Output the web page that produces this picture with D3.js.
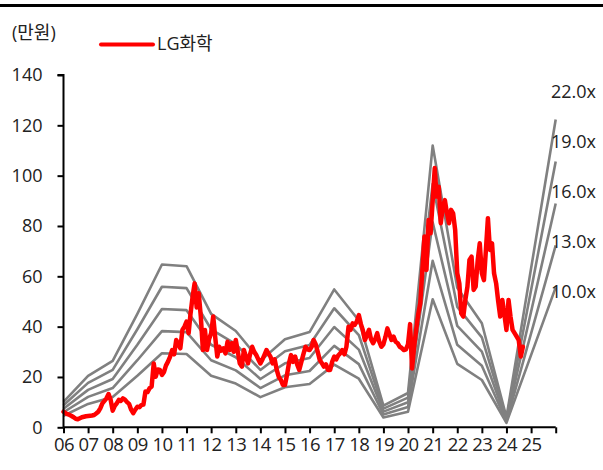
<!DOCTYPE html>
<html>
<head>
<meta charset="utf-8">
<script src="https://cdn.jsdelivr.net/npm/d3@7/dist/d3.min.js"></script>
<style>
  html, body { margin: 0; padding: 0; background: #fff; }
  svg { display: block; }
  text { font-family: "Open Sans", "Noto Sans CJK KR", sans-serif; fill: #222; }
</style>
</head>
<body>
<svg id="chart" width="603" height="470"></svg>
<script>
// ---- Data ----
const unitLabel = "(만원)";
const seriesName = "LG화학";
const bandYears = [2006, 2007, 2008, 2009, 2010, 2011, 2012, 2013, 2014, 2015, 2016, 2017, 2018, 2019, 2020, 2021, 2022, 2023, 2024, 2026];
const bandEPS   = [0.46, 0.93, 1.20, 2.05, 2.94, 2.91, 2.05, 1.74, 1.20, 1.59, 1.72, 2.49, 1.93, 0.39, 0.62, 5.09, 2.52, 1.88, 0.18, 5.56];
const multiples = [22, 19, 16, 13, 10];
const multipleLabels = ["22.0x", "19.0x", "16.0x", "13.0x", "10.0x"];
// Monthly share price (만원), starting Jan 2006
const priceStart = [2006, 0];
const priceValues = [
  6.2, 5.6, 5.2, 4.9, 4.5, 4.0, 3.4, 3.2, 3.6, 4.0, 4.2, 4.4,          // 2006
  4.5, 4.6, 4.7, 4.9, 5.5, 6.2, 7.5, 9.5, 10.5, 11.5, 13.2, 11.0,      // 2007
  6.6, 8.5, 9.5, 10.9, 10.5, 11.5, 11.0, 10.0, 9.3, 7.0, 5.6, 7.0,     // 2008
  8.2, 8.0, 8.8, 9.0, 14.2, 14.0, 15.5, 16.2, 25.4, 20.1, 23.0, 22.8,  // 2009
  20.8, 22.0, 24.5, 26.1, 28.0, 30.7, 29.0, 34.7, 33.0, 31.4, 38.7, 40.0, // 2010
  42.0, 37.4, 45.0, 51.9, 57.2, 47.6, 53.3, 44.0, 30.7, 38.7, 30.7, 35.0, // 2011
  37.4, 44.0, 36.0, 28.1, 32.0, 30.5, 31.4, 29.4, 34.0, 30.7, 33.4, 30.0, // 2012
  34.7, 30.0, 25.4, 24.1, 30.7, 28.1, 25.4, 29.0, 32.0, 30.0, 28.7, 27.0, // 2013
  25.4, 27.0, 28.7, 30.7, 29.4, 28.0, 25.4, 27.0, 22.8, 20.0, 18.8, 16.8, // 2014
  16.8, 21.0, 25.4, 28.7, 26.0, 28.1, 25.0, 22.8, 26.0, 29.0, 32.0, 31.0, // 2015
  30.7, 32.0, 34.7, 33.0, 30.0, 26.7, 25.5, 24.1, 25.0, 22.8, 22.8, 26.0, // 2016
  28.1, 27.0, 28.5, 29.4, 30.7, 29.0, 32.0, 40.0, 38.7, 41.3, 40.7, 42.0, // 2017
  44.6, 41.0, 38.7, 34.7, 36.5, 38.7, 35.0, 33.4, 35.0, 37.4, 34.0, 32.0, // 2018
  33.0, 36.0, 39.3, 37.0, 34.7, 36.0, 34.0, 33.4, 32.0, 31.5, 30.7, 31.0, // 2019
  33.0, 41.0, 23.4, 32.0, 38.7, 45.0, 49.3, 62.5, 75.8, 62.5, 82.4, 77.1, // 2020
  90.0, 103.0, 91.7, 95.6, 81.1, 87.7, 90.3, 85.0, 81.1, 86.4, 85.0, 78.4, // 2021
  61.2, 57.2, 45.3, 44.0, 50.6, 55.9, 66.5, 67.8, 54.6, 55.9, 66.5, 73.1, // 2022
  61.2, 58.5, 70.0, 83.1, 70.5, 73.1, 61.2, 57.2, 50.0, 44.0, 50.6, 45.0, // 2023
  38.7, 50.6, 44.0, 38.7, 37.4, 36.0, 34.7, 28.1, 32.0                    // 2024
];
const xTickYears = [2006, 2007, 2008, 2009, 2010, 2011, 2012, 2013, 2014, 2015, 2016, 2017, 2018, 2019, 2020, 2021, 2022, 2023, 2024, 2025, 2026];
const xTickLabels = ["06","07","08","09","10","11","12","13","14","15","16","17","18","19","20","21","22","23","24","25",""];
const yTicks = [0, 20, 40, 60, 80, 100, 120, 140];

// ---- Layout ----
const svg = d3.select("#chart");
const plotL = 63.5, plotR = 555.7, plotT = 75, plotB = 427.3;

const x = d3.scaleTime()
  .domain([new Date(2006, 0, 1), new Date(2026, 0, 1)])
  .range([plotL, plotR]);
const y = d3.scaleLinear().domain([0, 140]).range([plotB, plotT]);

// top rule
svg.append("rect").attr("x", 0).attr("y", 4).attr("width", 603).attr("height", 3).attr("fill", "#000");

// bands
const line = d3.line().x(d => x(d[0])).y(d => y(d[1]));
multiples.forEach((m, i) => {
  const pts = bandYears.map((yr, j) => [new Date(yr, 0, 1), bandEPS[j] * m]);
  svg.append("path")
    .attr("d", line(pts))
    .attr("fill", "none")
    .attr("stroke", "#808080")
    .attr("stroke-width", 2.6)
    .attr("stroke-linejoin", "round");
});

// price
const pricePts = priceValues.map((v, i) => [new Date(priceStart[0], priceStart[1] + i, 1), v]);
svg.append("path")
  .attr("d", line(pricePts))
  .attr("fill", "none")
  .attr("stroke", "#ff0000")
  .attr("stroke-width", 4.5)
  .attr("stroke-linejoin", "round")
  .attr("stroke-linecap", "round");

// axes
const yAxis = d3.axisLeft(y).tickValues(yTicks).tickSize(6).tickPadding(15);
const gy = svg.append("g").attr("transform", `translate(${plotL},0)`).call(yAxis);
gy.select(".domain").attr("stroke", "#000").attr("stroke-width", 2).attr("d", `M-6,${plotT}H0V${plotB}`);
gy.selectAll(".tick line").attr("stroke", "#000").attr("stroke-width", 2);
gy.selectAll(".tick text").style("font-size", "18px").attr("fill", "#222");

const xAxis = d3.axisBottom(x)
  .tickValues(xTickYears.map(yr => new Date(yr, 0, 1)))
  .tickFormat((d, i) => xTickLabels[i])
  .tickSize(6).tickPadding(5);
const gx = svg.append("g").attr("transform", `translate(0,${plotB})`).call(xAxis);
gx.select(".domain").attr("stroke", "#000").attr("stroke-width", 2).attr("d", `M${plotL},0H${plotR}`);
gx.selectAll(".tick line").attr("stroke", "#000").attr("stroke-width", 2);
gx.selectAll(".tick text").style("font-size", "18.5px").attr("fill", "#222").attr("letter-spacing", "-0.6px");

// multiple labels
multipleLabels.forEach((t, i) => {
  svg.append("text")
    .attr("x", 551)
    .attr("y", 92 + i * 49.8)
    .attr("dy", "0.35em")
    .style("font-size", "18px")
    .text(t);
});

// unit + legend
svg.append("text").attr("x", 12).attr("y", 33).attr("dy", "0.35em").style("font-size", "18px").text(unitLabel);
svg.append("line").attr("x1", 101).attr("x2", 153).attr("y1", 44.5).attr("y2", 44.5)
  .attr("stroke", "#ff0000").attr("stroke-width", 4).attr("stroke-linecap", "round");
svg.append("text").attr("x", 157).attr("y", 44).attr("dy", "0.35em").style("font-size", "18px").text(seriesName);
</script>
</body>
</html>
